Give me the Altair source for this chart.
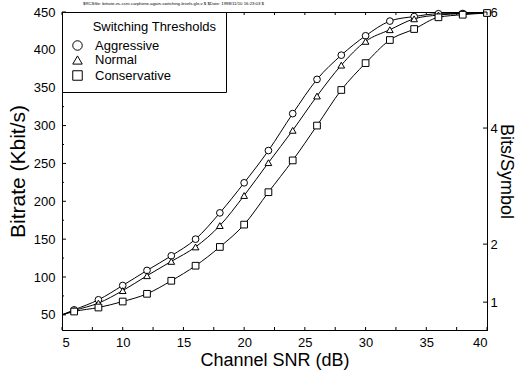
import altair as alt
import pandas as pd

# ---- data ----
series_names = ["Aggressive", "Normal", "Conservative"]
snr = [6, 8, 10, 12, 14, 16, 18, 20, 22, 24, 26, 28, 30, 32, 34, 36, 38, 40]
aggressive = [56.6, 69.9, 88.8, 108.7, 128, 150, 184.7, 224.4, 267, 315.8, 361, 393, 418.6, 438, 444, 447.7, 448, 448.7]
normal = [55.7, 65.5, 82, 101.7, 120.6, 139.7, 167.9, 207.6, 251, 293.7, 339, 379.8, 411.2, 426.6, 441, 446, 448, 449]
conservative = [54.4, 59.7, 67.6, 77.8, 95, 114.9, 139.7, 169.2, 212, 254, 300, 347, 382.5, 413, 427.5, 443, 446.4, 448.7]
start_snr = 5
start_rate = 50

x_label_values = [5, 10, 15, 20, 25, 30, 35, 40]
x_tick_values = [5, 7.5, 10, 12.5, 15, 17.5, 20, 22.5, 25, 27.5, 30, 32.5, 35, 37.5, 40]
y_label_values = [50, 100, 150, 200, 250, 300, 350, 400, 450]
y_minor_values = [75, 125, 175, 225, 275, 325, 375, 425]
bits_values = [1, 2, 4, 6]

header = "$RCSfile: bitrate-vs-csnr-carphone-again-switching-levels.gle,v $ $Date: 1998/11/10 16:23:03 $"
legend_title = "Switching Thresholds"

# ---- tables ----
rows_pts = []
rows_line = []
for name, vals in zip(series_names, [aggressive, normal, conservative]):
    rows_line.append({"series": name, "snr": start_snr, "rate": start_rate})
    for s, v in zip(snr, vals):
        rows_pts.append({"series": name, "snr": s, "rate": v})
        rows_line.append({"series": name, "snr": s, "rate": v})
df_pts = pd.DataFrame(rows_pts)
df_line = pd.DataFrame(rows_line)

W, H = 425, 318
FONT = "Liberation Sans"

xscale = alt.Scale(domain=[5, 40], nice=False, zero=False)
yscale = alt.Scale(domain=[30, 450], nice=False, zero=False)

x_axis = alt.Axis(values=x_label_values, title="Channel SNR (dB)", ticks=False,
                  labelPadding=6, titlePadding=2, titleFontSize=18,
                  labelFontSize=13, grid=False, domainColor="black", labelOverlap=False,
                  labelColor="black", titleColor="black", titleFontWeight="normal")
y_axis = alt.Axis(values=y_label_values, title="Bitrate (Kbit/s)", ticks=False,
                  labelPadding=7, titlePadding=5, titleFontSize=21, labelOverlap=False,
                  labelFontSize=13, grid=False, domainColor="black",
                  labelColor="black", titleColor="black", titleFontWeight="normal")

lines = alt.Chart(df_line).mark_line(color="black", strokeWidth=1, interpolate="monotone").encode(
    x=alt.X("snr:Q", scale=xscale, axis=x_axis),
    y=alt.Y("rate:Q", scale=yscale, axis=y_axis),
    detail="series:N")

points = alt.Chart(df_pts).mark_point(filled=False, fill="white", color="black",
                                      strokeWidth=1, size=45, opacity=1).encode(
    x=alt.X("snr:Q", scale=xscale, axis=x_axis),
    y=alt.Y("rate:Q", scale=yscale, axis=y_axis),
    shape=alt.Shape("series:N",
                    scale=alt.Scale(domain=series_names, range=["circle", "triangle-up", "square"]),
                    sort=series_names,
                    legend=alt.Legend(title="\u200b" + "\u00a0" * 6 + legend_title,
                                      orient="none", legendX=0, legendY=0,
                                      strokeColor="black", fillColor="white", padding=9,
                                      cornerRadius=0, titleFontSize=13, titleFontWeight="normal",
                                      titleColor="black", labelColor="black", labelFontSize=13,
                                      symbolSize=90, symbolStrokeWidth=1, rowPadding=0.5,
                                      labelOffset=11, titlePadding=5)))

df_xt = pd.DataFrame({"snr": x_tick_values})
df_ymaj = pd.DataFrame({"rate": y_label_values})
df_ymin = pd.DataFrame({"rate": y_minor_values})
df_bits = pd.DataFrame({"b": bits_values})

tick_bottom = alt.Chart(df_xt).mark_rule(color="black", strokeWidth=1).encode(
    x=alt.X("snr:Q", scale=xscale, axis=x_axis), y=alt.value(H), y2=alt.value(H - 3))
tick_top = alt.Chart(df_xt).mark_rule(color="black", strokeWidth=1).encode(
    x=alt.X("snr:Q", scale=xscale, axis=x_axis), y=alt.value(0), y2=alt.value(3))
tick_lmaj = alt.Chart(df_ymaj).mark_rule(color="black", strokeWidth=1).encode(
    y=alt.Y("rate:Q", scale=yscale, axis=y_axis), x=alt.value(0), x2=alt.value(4))
tick_lmin = alt.Chart(df_ymin).mark_rule(color="black", strokeWidth=1).encode(
    y=alt.Y("rate:Q", scale=yscale, axis=y_axis), x=alt.value(0), x2=alt.value(2))

left = alt.layer(lines, points, tick_bottom, tick_top, tick_lmaj, tick_lmin)

right = alt.Chart(df_bits).mark_rule(color="black", strokeWidth=1).encode(
    y=alt.Y("b:Q", scale=alt.Scale(domain=[0.52, 6], nice=False, zero=False),
            axis=alt.Axis(orient="right", values=bits_values, title="Bits/Symbol", ticks=False,
                          labelPadding=3, titlePadding=-1, titleFontSize=18, labelFontSize=13,
                          grid=False, domainColor="black", labelColor="black", labelOverlap=False,
                          titleColor="black", titleFontWeight="normal")),
    x=alt.value(W - 4), x2=alt.value(W))

chart = alt.layer(left, right).resolve_scale(y="independent").properties(
    width=W, height=H,
    autosize=alt.AutoSizeParams(type="none"),
    padding={"left": 62, "top": 12, "right": 30, "bottom": 41},
    title=alt.TitleParams(text=header, fontSize=4.3, anchor="start", frame="group", dx=21,
                          offset=0, color="black", fontWeight="normal", font=FONT),
).configure(font=FONT).configure_view(stroke="black", strokeWidth=1)

chart.save("out.html", embed_options={"renderer": "svg", "actions": False})
